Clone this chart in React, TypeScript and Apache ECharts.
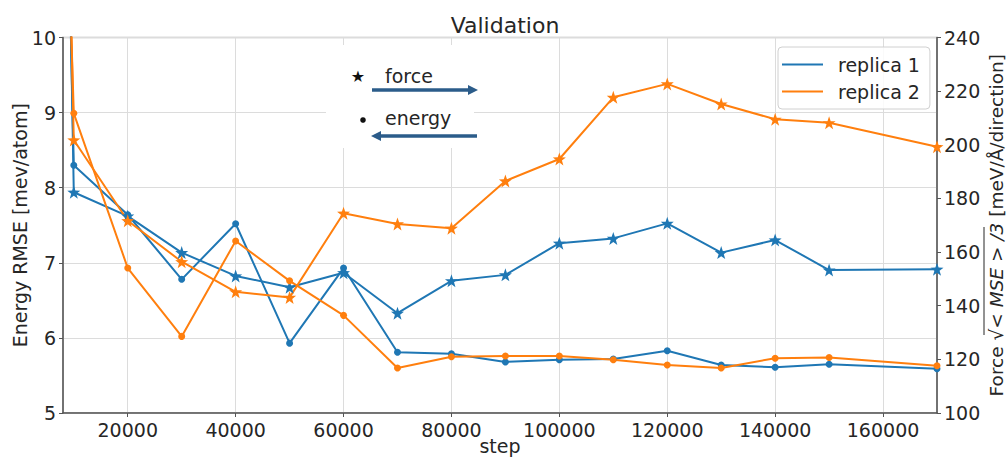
import React, { useEffect, useRef } from "react";
import * as echarts from "echarts";

const steps = [0, 10000, 20000, 30000, 40000, 50000, 60000, 70000, 80000, 90000, 100000, 110000, 120000, 130000, 140000, 150000, 170000];
const energyReplica1 = [40, 8.30, 7.64, 6.78, 7.52, 5.93, 6.93, 5.81, 5.79, 5.68, 5.71, 5.72, 5.83, 5.64, 5.61, 5.65, 5.59];
const energyReplica2 = [32, 8.99, 6.93, 6.02, 7.29, 6.76, 6.30, 5.60, 5.75, 5.76, 5.76, 5.71, 5.64, 5.60, 5.73, 5.74, 5.63];
const forceReplica1 = [1300, 182.3, 173.4, 159.8, 151.1, 146.9, 152.3, 137.2, 149.3, 151.5, 163.3, 165.1, 170.7, 159.8, 164.5, 153.3, 153.6];
const forceReplica2 = [1100, 201.8, 171.7, 156.4, 145.2, 143.1, 174.5, 170.5, 168.9, 186.5, 194.7, 217.7, 222.7, 215.2, 209.5, 208.2, 199.3];
const xTicks = [20000, 40000, 60000, 80000, 100000, 120000, 140000, 160000];
const seriesNames = ["replica 1", "replica 2"];

const BLUE = "#1f77b4";
const ORANGE = "#ff7f0e";
const FONT = "DejaVu Sans";
const TXT = "#262626";
const STAR = "path://M0,-10 L2.35,-3.24 9.51,-3.09 3.8,1.24 5.88,8.09 0,4 -5.88,8.09 -3.8,1.24 -9.51,-3.09 -2.35,-3.24Z";
const ARROW = "#2b5c8a";
const RFS = 18.5;

function zip(xs: number[], ys: number[]) {
  return xs.map((x, i) => [x, ys[i]]);
}

export default function App() {
  const ref = useRef<HTMLDivElement>(null);
  useEffect(() => {
    if (!ref.current) return;
    const chart = echarts.init(ref.current, null, { renderer: "svg" });
    const mk = (name: string, data: number[], color: string, star: boolean, yIdx: number) => ({
      type: "line",
      name,
      yAxisIndex: yIdx,
      data: zip(steps, data),
      clip: true,
      symbol: star ? STAR : "circle",
      symbolSize: star ? 13 : 7,
      showSymbol: true,
      lineStyle: { color, width: 2 },
      itemStyle: { color },
      z: 2,
    });
    chart.setOption({
      animation: false,
      textStyle: { fontFamily: FONT },
      title: {
        text: "Validation",
        left: 500,
        textAlign: "center",
        top: 9,
        textStyle: { fontFamily: FONT, fontSize: 22, fontWeight: "normal", color: TXT },
      },
      grid: {
        left: 63,
        right: 69,
        top: 37.5,
        bottom: 44,
        outerBoundsMode: "none",
        containLabel: false,
        show: true,
        borderColor: "#b8b8b8",
        borderWidth: 1.5,
        backgroundColor: "transparent",
      },
      legend: {
        data: seriesNames,
        orient: "vertical",
        left: 778,
        top: 47,
        icon: "rect",
        itemWidth: 41,
        itemHeight: 2,
        itemGap: 8,
        padding: [8, 10, 8, 4],
        borderColor: "#d0d0d0",
        borderWidth: 1,
        borderRadius: 4,
        backgroundColor: "rgba(255,255,255,0.85)",
        textStyle: { fontFamily: FONT, fontSize: 19, color: TXT, padding: [0, 0, 0, 10] },
      },
      xAxis: {
        type: "value",
        min: 8000,
        max: 170000,
        name: "step",
        nameLocation: "middle",
        nameGap: 23,
        nameMoveOverlap: false,
        nameTextStyle: { fontFamily: FONT, fontSize: 19, color: TXT },
        axisLine: { show: true, lineStyle: { color: "#555", width: 1.5 } },
        axisTick: { show: true, length: 4, lineStyle: { color: "#555" }, customValues: xTicks },
        axisLabel: {
          fontFamily: FONT,
          fontSize: 19,
          color: TXT,
          margin: 7,
          customValues: xTicks,
          formatter: (v: number) => String(v),
        },
        splitLine: { show: true, lineStyle: { color: "#dcdcdc", width: 1 } },
      },
      yAxis: [
        {
          type: "value",
          min: 5,
          max: 10,
          interval: 1,
          position: "left",
          name: "Energy RMSE [mev/atom]",
          nameLocation: "middle",
          nameRotate: 90,
          nameGap: 34,
          nameMoveOverlap: false,
          nameTextStyle: { fontFamily: FONT, fontSize: 19, color: TXT },
          axisLine: { show: true, lineStyle: { color: "#555", width: 1.5 } },
          axisTick: { show: true, length: 4, lineStyle: { color: "#555" } },
          axisLabel: { fontFamily: FONT, fontSize: 19, color: TXT, margin: 7 },
          splitLine: { show: true, lineStyle: { color: "#dcdcdc", width: 1 } },
        },
        {
          type: "value",
          min: 100,
          max: 240,
          interval: 20,
          position: "right",
          name: "{a|Force }{s|√}{m|< MSE > /3}{a| [meV/Å/direction]}",
          nameLocation: "middle",
          nameRotate: 90,
          nameGap: 50,
          nameMoveOverlap: false,
          nameTextStyle: {
            fontFamily: FONT,
            fontSize: RFS,
            color: TXT,
            rich: {
              a: { fontFamily: FONT, fontSize: RFS, color: TXT },
              s: { fontFamily: FONT, fontSize: RFS, color: TXT },
              m: { fontFamily: FONT, fontSize: RFS, color: TXT, fontStyle: "italic" },
            },
          },
          axisLine: { show: true, lineStyle: { color: "#555", width: 1.5 } },
          axisTick: { show: true, length: 4, lineStyle: { color: "#555" } },
          axisLabel: { fontFamily: FONT, fontSize: 19, color: TXT, margin: 7 },
          splitLine: { show: false },
        },
      ],
      graphic: [
        { type: "rect", z: 1, shape: { x: 326, y: 45, width: 148, height: 103 }, style: { fill: "#fff" } },
        { type: "text", z: 3, x: 358, y: 76, style: { text: "★", fontSize: 16, fill: "#111", align: "center", verticalAlign: "middle", fontFamily: FONT } },
        { type: "text", z: 3, x: 385, y: 76, style: { text: "force", fontSize: 19, fill: TXT, align: "left", verticalAlign: "middle", fontFamily: FONT } },
        { type: "line", z: 3, shape: { x1: 372, y1: 90, x2: 470, y2: 90 }, style: { stroke: ARROW, lineWidth: 3.5 } },
        { type: "polygon", z: 3, shape: { points: [[468, 85], [478, 90], [468, 95]] }, style: { fill: ARROW } },
        { type: "circle", z: 3, shape: { cx: 363, cy: 120, r: 2.8 }, style: { fill: "#111" } },
        { type: "text", z: 3, x: 385, y: 118, style: { text: "energy", fontSize: 19, fill: TXT, align: "left", verticalAlign: "middle", fontFamily: FONT } },
        { type: "line", z: 3, shape: { x1: 379, y1: 136, x2: 477, y2: 136 }, style: { stroke: ARROW, lineWidth: 3.5 } },
        { type: "polygon", z: 3, shape: { points: [[381, 131], [371, 136], [381, 141]] }, style: { fill: ARROW } },
        { type: "line", z: 3, shape: { x1: 984, y1: 227, x2: 984, y2: 335 }, style: { stroke: TXT, lineWidth: 1 } },
      ],
      series: [
        mk(seriesNames[0], energyReplica1, BLUE, false, 0),
        mk(seriesNames[0], forceReplica1, BLUE, true, 1),
        mk(seriesNames[1], energyReplica2, ORANGE, false, 0),
        mk(seriesNames[1], forceReplica2, ORANGE, true, 1),
      ],
    });
    return () => chart.dispose();
  }, []);
  return <div ref={ref} style={{ width: 1006, height: 457, position: "absolute", left: 0, top: 0 }} />;
}
